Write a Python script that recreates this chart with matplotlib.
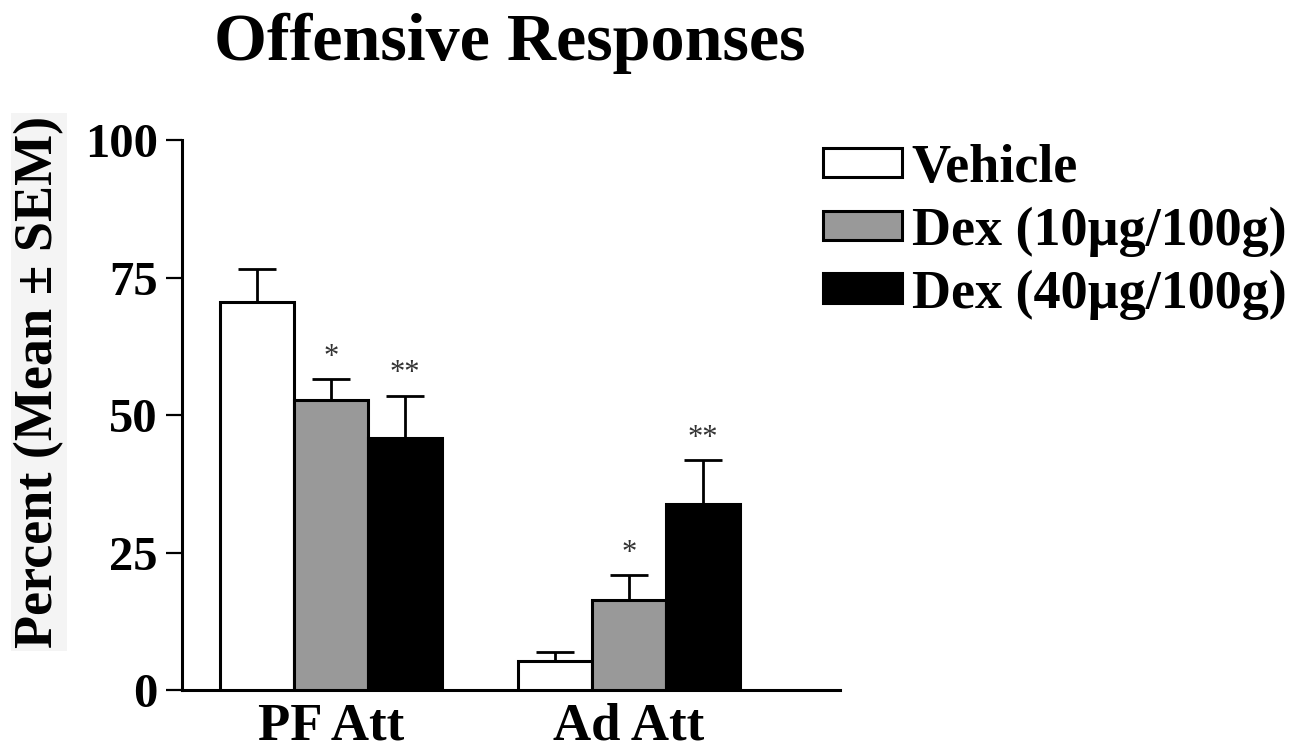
import matplotlib
matplotlib.use('Agg')
import matplotlib.pyplot as plt
import numpy as np

# values (percent, mean and SEM)
groups = ['PF Att', 'Ad Att']
series = ['Vehicle', 'Dex (10\u00b5g/100g)', 'Dex (40\u00b5g/100g)']
vehicle_mean = [70.6, 5.3]
vehicle_sem = [5.9, 1.7]
dex10_mean = [52.7, 16.4]
dex10_sem = [3.8, 4.5]
dex40_mean = [45.9, 33.8]
dex40_sem = [7.6, 8.0]
dex10_sig = ['*', '*']
dex40_sig = ['**', '**']
yticks = [0, 25, 50, 75, 100]

plt.rcParams['font.family'] = ['Liberation Serif', 'DejaVu Serif']
plt.rcParams['font.weight'] = 'bold'

fig = plt.figure(figsize=(12.92, 7.5), dpi=100)
ax = fig.add_axes([182 / 1292, 60 / 750, 658 / 1292, 550 / 750])

x = np.arange(len(groups))
w = 0.248
colors = ['white', '#999999', 'black']
means = [vehicle_mean, dex10_mean, dex40_mean]
sems = [vehicle_sem, dex10_sem, dex40_sem]
sigs = [['', ''], dex10_sig, dex40_sig]

handles = []
for i in range(3):
    pos = x + (i - 1) * w
    b = ax.bar(pos, means[i], width=w, color=colors[i], edgecolor='black',
               linewidth=2.2, zorder=3, label=series[i])
    handles.append(b)
    ax.errorbar(pos, means[i], yerr=[np.zeros(len(groups)), sems[i]],
                fmt='none', ecolor='black', elinewidth=2, capsize=14,
                capthick=2, zorder=2)
    for j in range(len(groups)):
        if sigs[i][j]:
            ax.text(pos[j], means[i][j] + sems[i][j] + 2.6, sigs[i][j],
                    ha='center', va='baseline', fontsize=22,
                    fontweight='normal', color='#333333')

ax.set_xlim(-0.5, 1.708)
ax.set_ylim(0, 100)
ax.set_yticks(yticks)
ax.set_xticks(x)
ax.set_xticklabels(groups, fontsize=38, fontweight='bold')
ax.tick_params(axis='y', labelsize=35, length=11.5, width=1.6, pad=6)
ax.tick_params(axis='x', length=0, pad=9)
for lab in ax.get_yticklabels():
    lab.set_fontweight('bold')
ax.spines['top'].set_visible(False)
ax.spines['right'].set_visible(False)
ax.spines['left'].set_linewidth(2.2)
ax.spines['bottom'].set_linewidth(2.2)

fig.text(39 / 1292, 1 - 382 / 750, 'Percent (Mean \u00b1 SEM)', rotation=90,
         ha='center', va='center', fontsize=39, fontweight='bold',
         bbox=dict(facecolor='#f4f4f4', edgecolor='none', pad=2))

fig.text(510 / 1292, 1 - 43 / 750, 'Offensive Responses', ha='center',
         va='center', fontsize=49, fontweight='bold')

leg = fig.legend(handles=handles, labels=series, loc='upper left',
                 bbox_to_anchor=(823 / 1292, 1 - 144 / 750), frameon=False,
                 fontsize=39, handlelength=1.46, handleheight=0.46,
                 handletextpad=0.18, labelspacing=0.23, borderpad=0,
                 borderaxespad=0)
for t in leg.get_texts():
    t.set_fontweight('bold')

fig.savefig('out.png', dpi=100, facecolor='white')
